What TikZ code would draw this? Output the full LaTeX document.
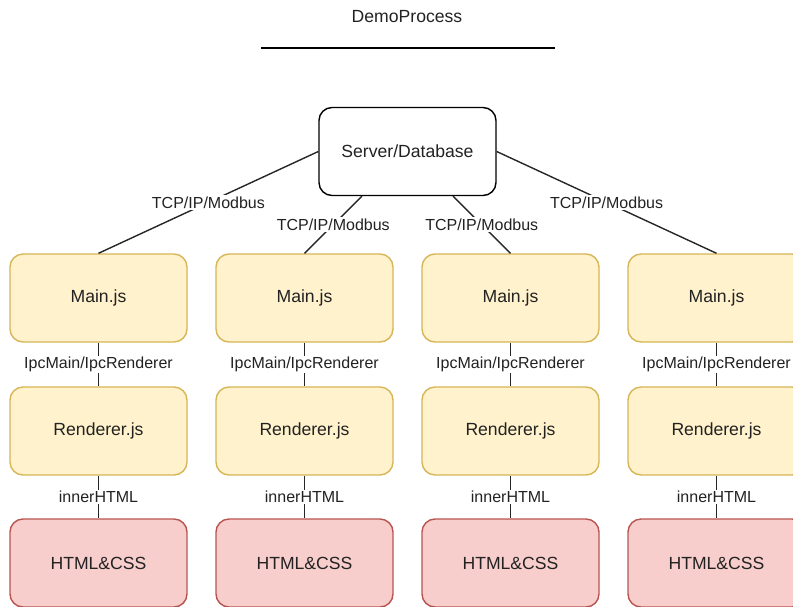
\documentclass[tikz,border=0pt]{standalone}
\usepackage{fontspec}
\setmainfont{Liberation Sans}
\definecolor{yfill}{HTML}{FFF2CC}
\definecolor{ydraw}{HTML}{D6B656}
\definecolor{rfill}{HTML}{F8CECC}
\definecolor{rdraw}{HTML}{B85450}
\definecolor{txt}{HTML}{222222}
\tikzset{
  box/.style={rectangle, rounded corners=13pt, minimum width=177pt, minimum height=88pt,
    line width=1.4pt, font=\fontsize{17.6}{20}\selectfont, text=txt, inner sep=0pt},
  yel/.style={box, draw=ydraw, fill=yfill},
  redbox/.style={box, draw=rdraw, fill=rfill},
  srv/.style={box, draw=black, fill=white},
  lab/.style={fill=white, font=\fontsize{16}{18}\selectfont, inner sep=1.5pt, text=txt},
  conn/.style={line width=1.4pt, draw=black!85}
}
\begin{document}
\begin{tikzpicture}[x=1pt,y=-1pt]
\useasboundingbox (0,0) rectangle (793,606);
\clip (0,0) rectangle (793,606);
% title
\node[font=\fontsize{17.6}{20}\selectfont, text=txt] (title) at (407,17) {DemoProcess};
\coordinate (tl) at (261,48);
\coordinate (tr) at (555,48);
\draw[line width=1.5pt] (tl) -- (tr);
% server
\node[srv] (srv) at (407.5,151.5) {Server/Database};
% columns
\foreach \i/\x in {1/98.5,2/304.5,3/510.5,4/716.5}{
  \node[yel] (m\i) at (\x,298) {Main.js};
  \node[yel] (r\i) at (\x,431) {Renderer.js};
  \node[redbox] (h\i) at (\x,563) {HTML\&CSS};
  \draw[conn] (m\i.south) -- node[lab] {IpcMain/IpcRenderer} (r\i.south |- r\i.north);
  \draw[conn] (r\i.south) -- node[lab] {innerHTML} (h\i.north);
}
\coordinate (s2) at ([xshift=-45.5pt]srv.south);
\coordinate (s3) at ([xshift=45.5pt]srv.south);
\draw[conn] (srv.west) -- node[lab] {TCP/IP/Modbus} (m1.north);
\draw[conn] (s2) -- node[lab] {TCP/IP/Modbus} (m2.north);
\draw[conn] (s3) -- node[lab] {TCP/IP/Modbus} (m3.north);
\draw[conn] (srv.east) -- node[lab] {TCP/IP/Modbus} (m4.north);
\end{tikzpicture}
\end{document}
